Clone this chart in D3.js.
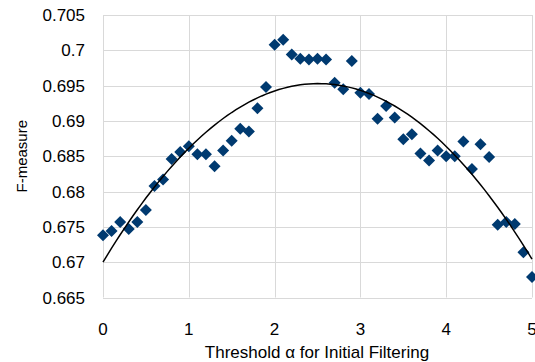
<!DOCTYPE html>
<html>
<head>
<meta charset="utf-8">
<script src="https://cdn.jsdelivr.net/npm/d3@7"></script>
<style>
  body { margin: 0; background: #fff; }
  text { font-family: "Liberation Sans", Arial, sans-serif; fill: #000; }
</style>
</head>
<body>
<svg width="535" height="362"></svg>
<script>
// threshold values (x) and F-measure (y)
var thresholds = [0, 0.1, 0.2, 0.3, 0.4, 0.5, 0.6, 0.7, 0.8, 0.9,
  1.0, 1.1, 1.2, 1.3, 1.4, 1.5, 1.6, 1.7, 1.8, 1.9,
  2.0, 2.1, 2.2, 2.3, 2.4, 2.5, 2.6, 2.7, 2.8, 2.9,
  3.0, 3.1, 3.2, 3.3, 3.4, 3.5, 3.6, 3.7, 3.8, 3.9,
  4.0, 4.1, 4.2, 4.3, 4.4, 4.5, 4.6, 4.7, 4.8, 4.9, 5.0];
var fmeasure = [0.6738, 0.6744, 0.6757, 0.6747, 0.6757, 0.6774, 0.6808, 0.6817, 0.6846, 0.6856,
  0.6864, 0.6853, 0.6853, 0.6836, 0.6858, 0.6872, 0.6889, 0.6885, 0.6918, 0.6948,
  0.7008, 0.7015, 0.6994, 0.6988, 0.6987, 0.6988, 0.6987, 0.6954, 0.6945, 0.6985,
  0.6940, 0.6938, 0.6903, 0.6921, 0.6905, 0.6874, 0.6881, 0.6854, 0.6844, 0.6858,
  0.6850, 0.6850, 0.6871, 0.6832, 0.6867, 0.6849, 0.6753, 0.6757, 0.6754, 0.6714, 0.6679];
var xTicks = [0, 1, 2, 3, 4, 5];
var yTicks = [0.665, 0.67, 0.675, 0.68, 0.685, 0.69, 0.695, 0.7, 0.705];

var svg = d3.select("svg"),
    margin = {top: 15, right: 3, bottom: 65, left: 103},
    width = +svg.attr("width"),
    height = +svg.attr("height");

var x = d3.scaleLinear().domain([0, 5]).range([margin.left, width - margin.right]);
var y = d3.scaleLinear().domain([0.665, 0.705]).range([height - margin.bottom + 0.5, margin.top]);

// gridlines
svg.append("g")
    .attr("stroke", "#d9d9d9")
    .attr("stroke-width", 1)
  .selectAll("line.h")
  .data(yTicks)
  .enter().append("line")
    .attr("x1", x(0)).attr("x2", x(5))
    .attr("y1", function(d) { return Math.round(y(d)) + 0.5; })
    .attr("y2", function(d) { return Math.round(y(d)) + 0.5; });

svg.append("g")
    .attr("stroke", "#d9d9d9")
    .attr("stroke-width", 1)
  .selectAll("line.v")
  .data(xTicks)
  .enter().append("line")
    .attr("y1", y(0.665)).attr("y2", y(0.705))
    .attr("x1", function(d) { return Math.round(x(d)) + 0.5; })
    .attr("x2", function(d) { return Math.round(x(d)) + 0.5; });

// tick labels
svg.append("g")
    .attr("font-size", 17)
    .attr("text-anchor", "end")
  .selectAll("text")
  .data(yTicks)
  .enter().append("text")
    .attr("x", 85)
    .attr("y", function(d) { return y(d) + 6; })
    .text(function(d) { return d3.format("")(+d.toFixed(3)); });

svg.append("g")
    .attr("font-size", 17)
    .attr("text-anchor", "middle")
  .selectAll("text")
  .data(xTicks)
  .enter().append("text")
    .attr("x", function(d) { return x(d); })
    .attr("y", 334.5)
    .text(function(d) { return d; });

// axis titles
svg.append("text")
    .attr("font-size", 17)
    .attr("text-anchor", "middle")
    .attr("x", 317)
    .attr("y", 357.5)
    .text("Threshold α for Initial Filtering");

svg.append("text")
    .attr("font-size", 15)
    .attr("text-anchor", "middle")
    .attr("transform", "translate(27," + y(0.685) + ") rotate(-90)")
    .text("F-measure");

// points
var data = thresholds.map(function(t, i) { return [t, fmeasure[i]]; });

svg.append("g")
    .attr("fill", "#003a70")
  .selectAll("path")
  .data(data)
  .enter().append("path")
    .attr("transform", function(d) { return "translate(" + x(d[0]) + "," + y(d[1]) + ")"; })
    .attr("d", "M0,-6L6,0L0,6L-6,0Z");

// quadratic trend line (least squares fit of the points)
var fit = polyFit2(thresholds, fmeasure);
var trend = d3.range(0, 5.0001, 0.05).map(function(t) {
  return [t, fit[0] + fit[1] * t + fit[2] * t * t];
});

svg.append("path")
    .datum(trend)
    .attr("fill", "none")
    .attr("stroke", "#000")
    .attr("stroke-width", 1.5)
    .attr("d", d3.line()
        .x(function(d) { return x(d[0]); })
        .y(function(d) { return y(d[1]); }));

function polyFit2(xs, ys) {
  var s = [0, 0, 0, 0, 0], t = [0, 0, 0];
  xs.forEach(function(xv, i) {
    var p = 1;
    for (var k = 0; k < 5; k++) { s[k] += p; if (k < 3) t[k] += p * ys[i]; p *= xv; }
  });
  var m = [[s[0], s[1], s[2], t[0]], [s[1], s[2], s[3], t[1]], [s[2], s[3], s[4], t[2]]];
  for (var c = 0; c < 3; c++) {
    for (var r = c + 1; r < 3; r++) {
      var f = m[r][c] / m[c][c];
      for (var k = c; k < 4; k++) m[r][k] -= f * m[c][k];
    }
  }
  var a = [0, 0, 0];
  for (var r = 2; r >= 0; r--) {
    var v = m[r][3];
    for (var k = r + 1; k < 3; k++) v -= m[r][k] * a[k];
    a[r] = v / m[r][r];
  }
  return a;
}
</script>
</body>
</html>
